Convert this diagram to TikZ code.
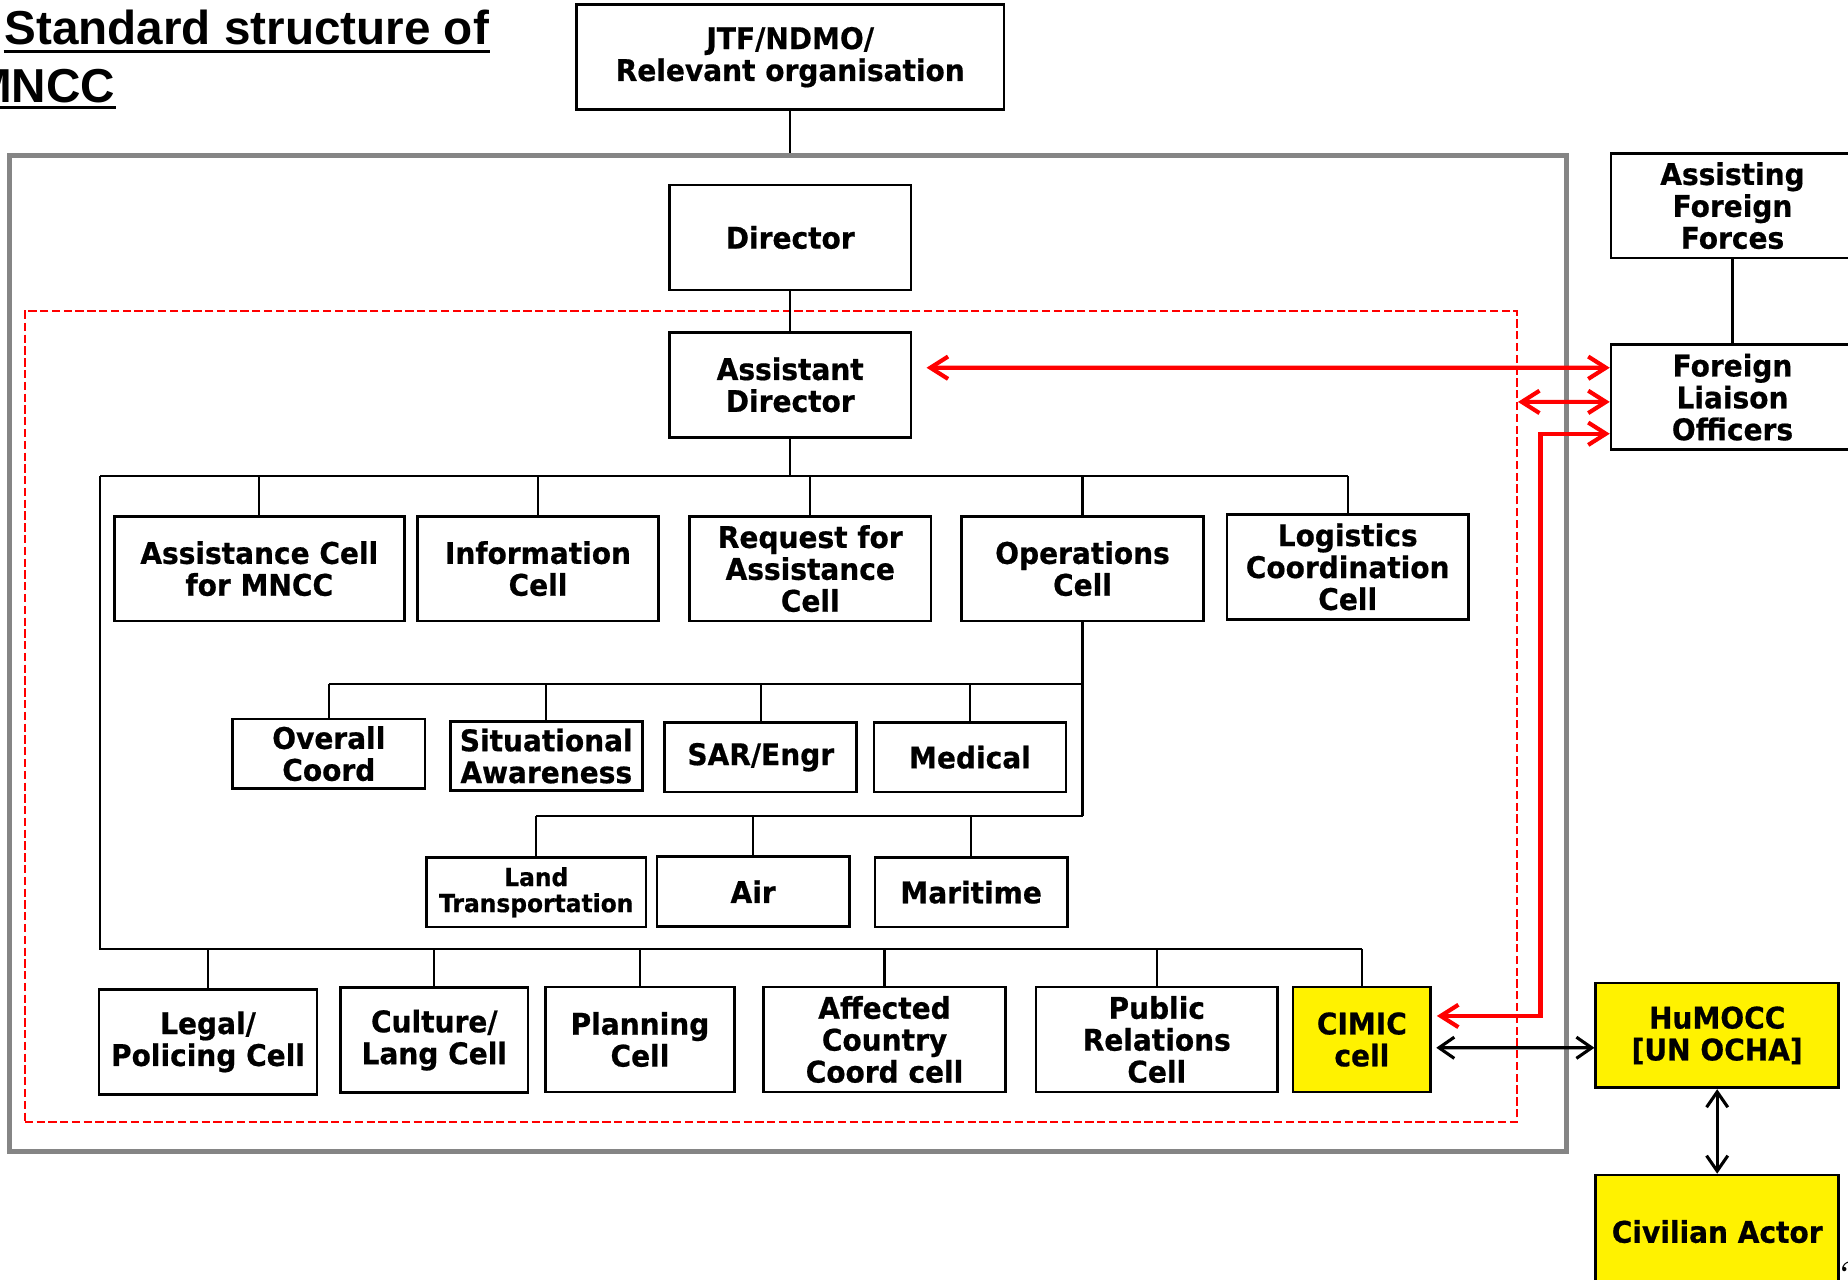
\documentclass[tikz,border=0pt]{standalone}
\usepackage{fontspec}
\usetikzlibrary{arrows.meta, positioning}
\newfontfamily\boxfont{DejaVu Sans}[FakeStretch=0.94, BoldFeatures={FakeBold=0.6}]
\newfontfamily\titlefont{Liberation Sans}

\begin{document}
\begin{tikzpicture}[x=0.1mm, y=-0.1mm, line width=0.5pt,
  cell/.style={draw, line width=0.65pt, rectangle, align=center, inner sep=1pt, minimum height=8.9mm, font=\boxfont\bfseries\fontsize{7.2}{7.7}\selectfont},
  wide/.style={cell, minimum width=20.5mm},
  sub/.style={cell, minimum width=16.3mm, minimum height=5.9mm},
  yel/.style={fill=yellow},
  ttl/.style={inner sep=0pt, font=\titlefont\bfseries\fontsize{11.5}{13}\selectfont},
  lnk/.style={red, line width=1pt, {Straight Barb[length=1.5mm,width=1.9mm]}-{Straight Barb[length=1.5mm,width=1.9mm]}},
  blk/.style={black, line width=0.75pt, {Straight Barb[length=1.3mm,width=1.8mm]}-{Straight Barb[length=1.3mm,width=1.8mm]}}]
  \useasboundingbox (0,0) rectangle (1568,1086);

  % Titel
  \node[ttl, anchor=base west] (title) at (3,38) {Standard structure of};
  \node[ttl, anchor=base east] (title2) at (98.5,87) {MNCC};
  \draw[line width=0.7pt] ([yshift=-0.55mm]title.base west) -- ([yshift=-0.55mm]title.base east);
  \draw[line width=0.7pt] ([yshift=-0.45mm]title2.base west) -- ([yshift=-0.45mm]title2.base east);

  % Rahmen
  \node[draw=black!48, line width=1.1pt, minimum width=132.1mm, minimum height=84.5mm] (mncc) at (668.5,554.5) {};
  \node[draw=red, line width=0.55pt, dash pattern=on 0.7mm off 0.3mm, minimum width=126.6mm, minimum height=68.8mm] (core) at (654,608) {};

  % Leitung
  \node[cell, minimum width=36.3mm] (jtf) at (670.5,48.5) {JTF/NDMO/\\Relevant organisation};
  \node[wide] (dir) at (670.5,201.5) {Director};
  \node[wide] (adir) at (670.5,326.5) {Assistant\\Director};

  % Zellen
  \node[cell, minimum width=24.6mm] (acell) at (220,482.5) {Assistance Cell\\for MNCC};
  \node[wide] (info) at (456.5,482.5) {Information\\Cell};
  \node[wide] (rfa) at (687.5,482.5) {Request for\\Assistance\\Cell};
  \node[wide] (ops) at (918.5,482.5) {Operations\\Cell};
  \node[wide] (logi) at (1143.5,481) {Logistics\\Coordination\\Cell};

  % Operations-Untergruppen
  \node[sub] (coord) at (279,639.5) {Overall\\Coord};
  \node[sub] (sa) at (463.5,641.5) {Situational\\Awareness};
  \node[sub] (sar) at (645.5,642.5) {SAR/Engr};
  \node[sub] (med) at (823,642.5) {Medical};
  \node[sub, minimum width=18.6mm, font=\boxfont\bfseries\fontsize{6}{6.3}\selectfont] (land) at (455,757) {Land\\Transportation};
  \node[sub] (air) at (639,756.5) {Air};
  \node[sub] (mari) at (824,757) {Maritime};

  % Untere Reihe
  \node[cell, minimum width=18.5mm] (legal) at (176.5,884) {Legal/\\Policing Cell};
  \node[cell, minimum width=15.9mm] (cult) at (368.5,882.5) {Culture/\\Lang Cell};
  \node[cell, minimum width=16mm] (plan) at (543,882) {Planning\\Cell};
  \node[wide] (acc) at (750.5,882) {Affected\\Country\\Coord cell};
  \node[wide] (pr) at (981.5,882) {Public\\Relations\\Cell};
  \node[cell, yel, minimum width=11.7mm] (cimic) at (1155.5,882) {CIMIC\\cell};

  % Externe Stellen
  \node[cell, minimum width=20.6mm] (aff) at (1470,174.5) {Assisting\\Foreign\\Forces};
  \node[cell, minimum width=20.6mm] (flo) at (1470,337) {Foreign\\Liaison\\Officers};
  \node[cell, yel, minimum width=20.6mm] (humocc) at (1457,878.5) {HuMOCC\\{[UN OCHA]}};
  \node[cell, yel, minimum width=20.6mm, minimum height=9.6mm] (civil) at (1457,1045) {Civilian Actor};
  \node[anchor=west, inner sep=0pt, font=\fontsize{10}{10}\selectfont] (pgnum) at (1561,1082) {2};

  % Verbindungen
  \coordinate (busA) at (85,404);
  \coordinate (busB) at (85,805);
  \draw (jtf) -- (jtf |- mncc.north);
  \draw (dir) -- (adir);
  \draw (adir) -- (adir |- busA);
  \draw (busA) -- (logi.north |- busA);
  \draw (busA) -- (busB) -- (cimic.north |- busB);
  \foreach \n in {acell, info, rfa, ops, logi}
    \draw (\n.north |- busA) -- (\n.north);
  \draw (ops.south) -- (ops.south |- 0,692);
  \draw (coord.north |- 0,580) -- (ops.south |- 0,580);
  \foreach \n in {coord, sa, sar, med}
    \draw (\n.north |- 0,580) -- (\n.north);
  \draw (land.north |- 0,692) -- (ops.south |- 0,692);
  \foreach \n in {land, air, mari}
    \draw (\n.north |- 0,692) -- (\n.north);
  \foreach \n in {legal, cult, plan, acc, pr, cimic}
    \draw (\n.north |- busB) -- (\n.north);

  \draw (aff) -- (flo);
  \draw[blk, shorten <=0.35mm] ([yshift=-0.7mm]cimic.east) -- ([yshift=-1.05mm]humocc.west);
  \draw[blk] (humocc) -- (civil);

  % Rote Verbindungen zu den Foreign Liaison Officers
  \draw[lnk, shorten <=1.2mm] ([yshift=1.45mm]adir.east) -- ([yshift=2.5mm]flo.west);
  \draw[lnk] (core.east |- 0,341) -- ([yshift=-0.4mm]flo.west);
  \draw[lnk, shorten <=0.4mm] ([yshift=2mm]cimic.east) -- ++(9.2mm,0) |- ([yshift=-3.1mm]flo.west);
\end{tikzpicture}
\end{document}
